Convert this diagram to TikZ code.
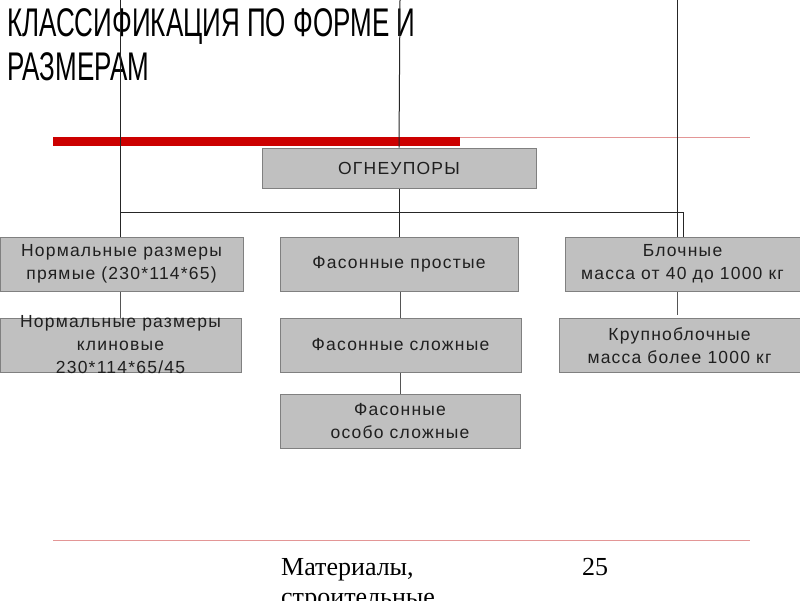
\documentclass[tikz,border=0pt]{standalone}
\usepackage{fontspec}
\setmainfont{Liberation Sans}
\newfontfamily\titlefont[FakeStretch=0.65]{Liberation Sans}
\newfontfamily\boxfont[LetterSpace=7]{Liberation Sans}
\newfontfamily\footfont{Liberation Serif}
\definecolor{boxfill}{HTML}{C0C0C0}
\definecolor{boxline}{HTML}{808080}
\definecolor{barred}{HTML}{CC0000}
\definecolor{thinred}{HTML}{E39696}
\definecolor{conn}{HTML}{555555}
\tikzset{
  box/.style={draw=boxline, fill=boxfill, line width=1pt, inner sep=0pt},
  boxtext/.style={font=\boxfont\fontsize{17.5}{23}\selectfont, align=center, text=black!88, inner sep=0pt},
  titletext/.style={anchor=base west, inner sep=0pt, font=\titlefont\fontsize{40}{44}\selectfont},
  foottext/.style={anchor=base west, inner sep=0pt, font=\footfont\fontsize{26}{30}\selectfont},
  topline/.style={draw=black!85, line width=1pt},
  rowline/.style={draw=conn, line width=1pt},
}
\begin{document}
\begin{tikzpicture}[x=1pt,y=-1pt]
\useasboundingbox (0,0) rectangle (800,600);
\clip (0,0) rectangle (800,600);
\fill[white] (0,0) rectangle (800,600);
% title
\node[titletext] (t1) at (7,36.5) {КЛАССИФИКАЦИЯ ПО ФОРМЕ И};
\node[titletext] (t2) at (7,80) {РАЗМЕРАМ};
% red rules
\coordinate (rA) at (53,137.5); \coordinate (rB) at (750,137.5);
\draw[thinred, line width=1pt] (rA) -- (rB);
\fill[barred] (53,137) rectangle (460,146);
\coordinate (bA) at (53,540); \coordinate (bB) at (750,540);
\draw[thinred, line width=1pt] (bA) -- (bB);
% coordinates for free ends
\coordinate (topL) at (120,0);
\coordinate (topC) at (400,0);
\coordinate (topR) at (677,0);
\coordinate (brL) at (121,212);
\coordinate (brR) at (683,212);
\coordinate (r1end) at (677,315);
% boxes
\node[box, minimum width=274pt, minimum height=40pt] (ogn) at (399,168) {};
\node[box, minimum width=243pt, minimum height=54pt] (l1) at (121.5,264) {};
\node[box, minimum width=238pt, minimum height=54pt] (c1) at (399,264) {};
\node[box, minimum width=240pt, minimum height=54pt] (r1) at (685,264) {};
\node[box, minimum width=241pt, minimum height=54pt] (l2) at (120.5,345) {};
\node[box, minimum width=241pt, minimum height=54pt] (c2) at (400.5,345) {};
\node[box, minimum width=245pt, minimum height=54pt] (r2) at (681.5,345.5) {};
\node[box, minimum width=240pt, minimum height=54pt] (c3) at (400,421) {};
% connectors
\draw[topline] (topL) -- (topL |- l1.north);
\draw[topline] (topC) -- (ogn.north);
\draw[topline] (ogn.south) -- (c1.north);
\draw[topline] (topR) -- (topR |- r1.north);
\draw[topline] (brL) -- (brR) -- (brR |- r1.north);
\draw[rowline] (l1.south -| topL) -- (l2.north -| topL);
\draw[rowline] (c1.south -| topC) -- (c2.north -| topC);
\draw[rowline] (c2.south -| topC) -- (c3.north -| topC);
\draw[rowline] (r1.south -| r1end) -- (r1end);
% texts
\node[boxtext] at (ogn) {ОГНЕУПОРЫ};
\node[boxtext] at (l1) {Нормальные размеры\\прямые (230*114*65)};
\node[boxtext] at (c1) {Фасонные простые};
\node[boxtext] at (682.5,264) {Блочные\\масса от 40 до 1000 кг};
\node[boxtext] at (l2) {Нормальные размеры\\клиновые\\230*114*65/45};
\node[boxtext] at (c2) {Фасонные сложные};
\node[boxtext] at (679.5,345.5) {Крупноблочные\\масса более 1000 кг};
\node[boxtext] at (c3) {Фасонные\\особо сложные};
% footer
\node[foottext] (f1) at (281,575) {Материалы,};
\node[foottext] (f2) at (281,605) {строительные};
\node[foottext] (pg) at (582,575) {25};
\end{tikzpicture}
\end{document}
